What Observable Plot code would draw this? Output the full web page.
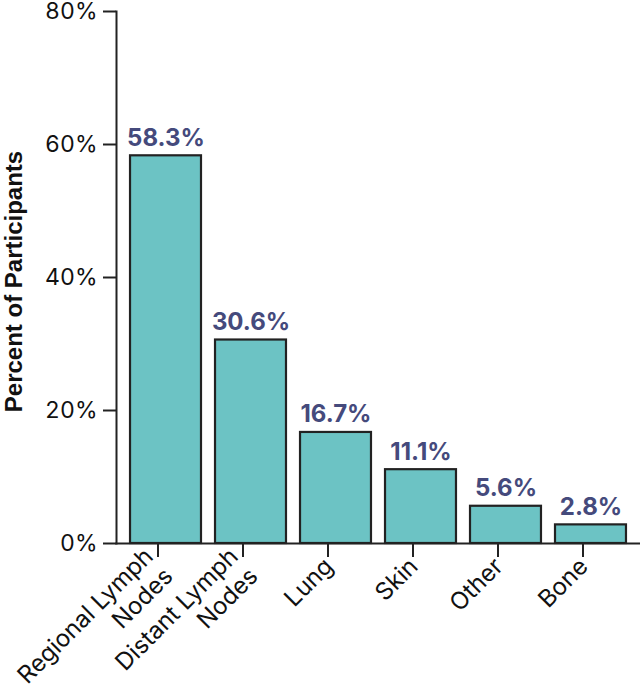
<!DOCTYPE html>
<html>
<head>
<meta charset="utf-8">
<script src="https://cdn.jsdelivr.net/npm/d3@7"></script>
<script src="https://cdn.jsdelivr.net/npm/@observablehq/plot@0.6"></script>
<style>
  html, body { margin: 0; padding: 0; background: #fff; }
  #chart svg { display: block; overflow: visible; }
</style>
</head>
<body>
<div id="chart"></div>
<script>
const categories = ["Regional Lymph\nNodes", "Distant Lymph\nNodes", "Lung", "Skin", "Other", "Bone"];
const values = [58.3, 30.6, 16.7, 11.1, 5.6, 2.8];
const yTicks = [0, 20, 40, 60, 80];
const yLabel = "Percent of Participants";

const data = categories.map((c, i) => ({category: c, value: values[i]}));

const tickFont = "Inter, 'Open Sans', sans-serif";

const chart = Plot.plot({
  width: 640,
  height: 691,
  marginLeft: 116,
  marginRight: 0,
  marginTop: 11,
  marginBottom: 148,
  style: {fontFamily: tickFont, background: "#fff"},
  x: {domain: categories, padding: 0.165, round: false, label: null},
  y: {domain: [0, 80], label: null},
  marks: [
    Plot.barY(data, {x: "category", y: "value", fill: "#6cc3c4", stroke: "#222", strokeWidth: 2.2}),
    Plot.text(data, {
      x: "category", y: "value", text: d => d.value.toFixed(1) + "%",
      dy: -10, lineAnchor: "bottom", textAnchor: "middle",
      fontSize: 24, fontWeight: "bold", fill: "#454a7c", fontFamily: tickFont
    }),
    Plot.axisY({
      ticks: yTicks, tickFormat: d => d + "%", tickSize: 13, tickPadding: 6,
      fontSize: 23, stroke: "#222", strokeWidth: 2, strokeOpacity: 1, fill: "#111",
      label: null
    }),
    Plot.axisX({
      tickSize: 14, tickPadding: 4, tickRotate: -45, fontSize: 24, lineHeight: 1.17,
      dx: -8, dy: 0,
      stroke: "#222", strokeWidth: 2, strokeOpacity: 1, fill: "#111", label: null
    }),
    Plot.frame({anchor: "left", stroke: "#222", strokeWidth: 2}),
    Plot.frame({anchor: "bottom", stroke: "#222", strokeWidth: 2}),
    Plot.text([yLabel], {
      text: d => d, frameAnchor: "left", dx: -102, dy: 4, rotate: -90,
      textAnchor: "middle", lineAnchor: "middle",
      fontSize: 24, fontWeight: "bold", fill: "#111",
      fontFamily: "'Liberation Sans', Arial, sans-serif"
    })
  ]
});

document.getElementById("chart").appendChild(chart);
</script>
</body>
</html>
